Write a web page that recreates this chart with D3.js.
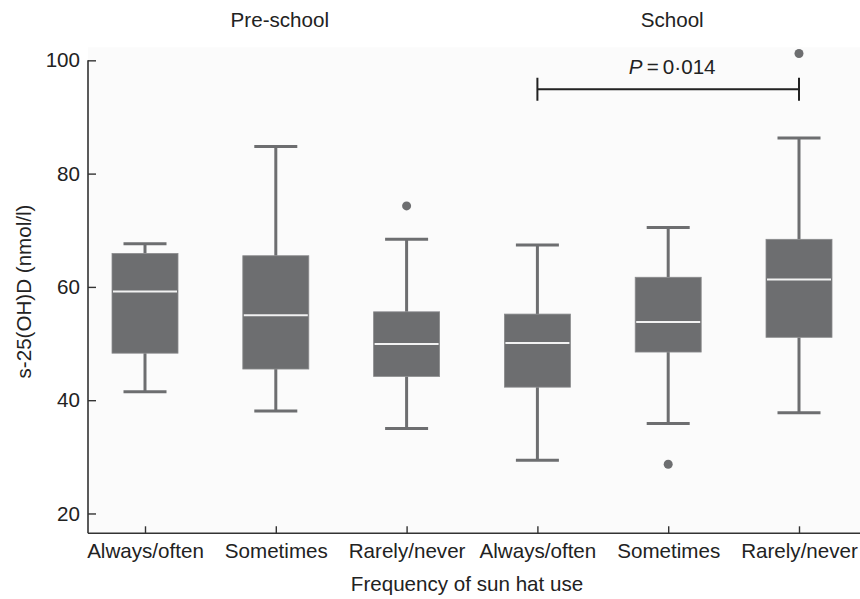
<!DOCTYPE html>
<html>
<head>
<meta charset="utf-8">
<script src="https://cdn.jsdelivr.net/npm/d3@7"></script>
<style>
  html, body { margin: 0; padding: 0; background: #ffffff; }
  svg { display: block; }
  text { font-family: "Liberation Sans", Arial, sans-serif; fill: #222; }
</style>
</head>
<body>
<svg id="chart" width="860" height="599"></svg>
<script>
// ---- data ----
const categories = ["Always/often", "Sometimes", "Rarely/never", "Always/often ", "Sometimes ", "Rarely/never "];
const groups = ["Pre-school", "School"];
const groupOfCategory = [0, 0, 0, 1, 1, 1];
const whiskerLow  = [41.5, 38.1, 35.0, 29.4, 35.9, 37.8];
const q1          = [48.3, 45.5, 44.2, 42.3, 48.5, 51.1];
const median      = [59.2, 55.0, 49.9, 50.1, 53.8, 61.3];
const q3          = [65.9, 65.5, 55.6, 55.2, 61.7, 68.4];
const whiskerHigh = [67.6, 84.8, 68.4, 67.4, 70.5, 86.3];
const outlierCat  = [2, 4, 5];
const outlierVal  = [74.3, 28.7, 101.2];
const yTicks = [20, 40, 60, 80, 100];
const pBar = { from: 3, to: 5, y: 94.9, label: "0·014" };

(function () {
// ---- layout ----
const svg = d3.select("#chart");
const mLeft = 88, mRight = 860, mTop = 47.3, mBottom = 533.3;
const x = d3.scalePoint().domain(categories).range([145, 799]);
const y = d3.scaleLinear().domain([16.5, 102.3]).range([mBottom, mTop]);
const boxW = 66, capW = 43;
const boxColor = "#6d6e70";
const font = 20.6;

// plot background
svg.append("rect").attr("x", mLeft).attr("y", mTop).attr("width", mRight - mLeft).attr("height", mBottom - mTop)
  .attr("fill", "#fbfbfb");

// axes
const yAxis = svg.append("g").attr("transform", `translate(${mLeft},0)`)
  .call(d3.axisLeft(y).tickValues(yTicks).tickSize(-8).tickPadding(8).tickSizeOuter(0));
const xAxis = svg.append("g").attr("transform", `translate(0,${mBottom})`)
  .call(d3.axisBottom(x).tickSize(-7).tickPadding(10).tickSizeOuter(0).tickFormat(d => d.trim()));
[yAxis, xAxis].forEach(g => {
  g.select(".domain").attr("stroke", "#333").attr("stroke-width", 1.6);
  g.selectAll(".tick line").attr("stroke", "#333").attr("stroke-width", 1.4);
  g.selectAll(".tick text").attr("font-size", font).attr("fill", "#222")
    .attr("font-family", '"Liberation Sans", Arial, sans-serif');
});
xAxis.select(".domain").attr("d", `M${mLeft},0H${mRight}`);
yAxis.select(".domain").attr("d", `M0,${mBottom}V${y(d3.max(yTicks))}`);

// boxes
const idx = d3.range(categories.length);
const g = svg.append("g");
g.selectAll("line.wl").data(idx).join("line").attr("class", "wl")
  .attr("x1", i => x(categories[i])).attr("x2", i => x(categories[i]))
  .attr("y1", i => y(whiskerLow[i])).attr("y2", i => y(q1[i]))
  .attr("stroke", boxColor).attr("stroke-width", 3);
g.selectAll("line.wh").data(idx).join("line").attr("class", "wh")
  .attr("x1", i => x(categories[i])).attr("x2", i => x(categories[i]))
  .attr("y1", i => y(whiskerHigh[i])).attr("y2", i => y(q3[i]))
  .attr("stroke", boxColor).attr("stroke-width", 3);
g.selectAll("line.cl").data(idx).join("line").attr("class", "cl")
  .attr("x1", i => x(categories[i]) - capW / 2).attr("x2", i => x(categories[i]) + capW / 2)
  .attr("y1", i => y(whiskerLow[i])).attr("y2", i => y(whiskerLow[i]))
  .attr("stroke", boxColor).attr("stroke-width", 3);
g.selectAll("line.ch").data(idx).join("line").attr("class", "ch")
  .attr("x1", i => x(categories[i]) - capW / 2).attr("x2", i => x(categories[i]) + capW / 2)
  .attr("y1", i => y(whiskerHigh[i])).attr("y2", i => y(whiskerHigh[i]))
  .attr("stroke", boxColor).attr("stroke-width", 3);
g.selectAll("rect.box").data(idx).join("rect").attr("class", "box")
  .attr("x", i => x(categories[i]) - boxW / 2).attr("width", boxW)
  .attr("y", i => y(q3[i])).attr("height", i => y(q1[i]) - y(q3[i]))
  .attr("fill", boxColor).attr("stroke", "#8a8b8d").attr("stroke-width", 0.8);
g.selectAll("line.med").data(idx).join("line").attr("class", "med")
  .attr("x1", i => x(categories[i]) - boxW / 2 + 1).attr("x2", i => x(categories[i]) + boxW / 2 - 1)
  .attr("y1", i => y(median[i])).attr("y2", i => y(median[i]))
  .attr("stroke", "#f2f2f2").attr("stroke-width", 2);
g.selectAll("circle.out").data(d3.range(outlierCat.length)).join("circle").attr("class", "out")
  .attr("cx", j => x(categories[outlierCat[j]])).attr("cy", j => y(outlierVal[j]))
  .attr("r", 4.5).attr("fill", boxColor);

// group labels
groups.forEach((name, gi) => {
  const members = idx.filter(i => groupOfCategory[i] === gi);
  const cx = d3.mean(members, i => x(categories[i]));
  svg.append("text").attr("x", cx + 4).attr("y", 27).attr("text-anchor", "middle")
    .attr("font-size", font).text(name);
});

// significance bar
const bx1 = x(categories[pBar.from]), bx2 = x(categories[pBar.to]), by = y(pBar.y);
svg.append("path")
  .attr("d", `M${bx1},${by - 11.5}V${by + 11.5}M${bx1},${by}H${bx2}M${bx2},${by - 11.5}V${by + 11.5}`)
  .attr("stroke", "#222").attr("stroke-width", 2).attr("fill", "none");
const pt = svg.append("text").attr("x", (bx1 + bx2) / 2 + 4).attr("y", 74).attr("text-anchor", "middle")
  .attr("font-size", font);
pt.append("tspan").attr("font-style", "italic").text("P");
pt.append("tspan").text("\u2009=\u2009" + pBar.label);

// axis titles
svg.append("text").attr("x", 467).attr("y", 591).attr("text-anchor", "middle")
  .attr("font-size", font).text("Frequency of sun hat use");
svg.append("text").attr("transform", "translate(31,291.5) rotate(-90)").attr("text-anchor", "middle")
  .attr("font-size", font).text("s-25(OH)D (nmol/l)");
})();
</script>
</body>
</html>
